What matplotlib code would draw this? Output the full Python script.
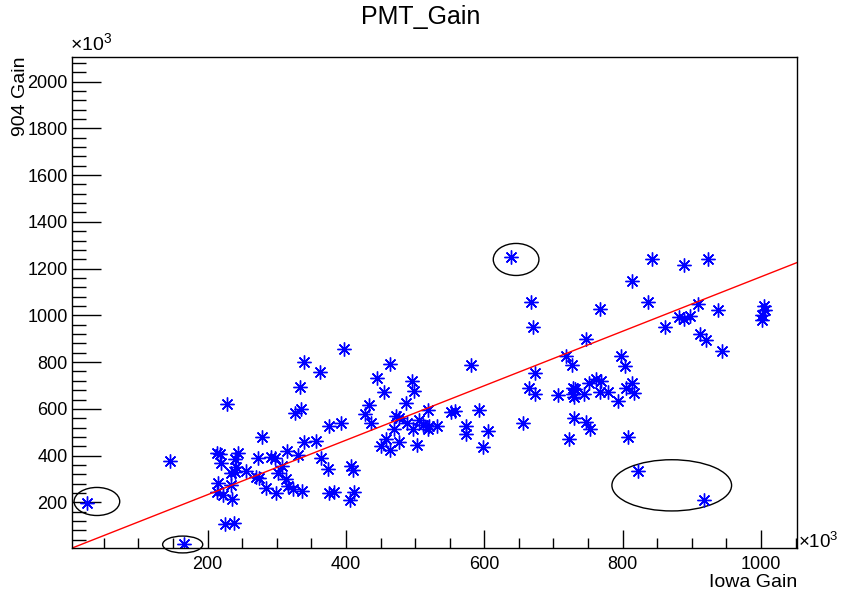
import numpy as np
import matplotlib
matplotlib.use("Agg")
import matplotlib.pyplot as plt
from matplotlib.patches import Ellipse
from matplotlib.ticker import MultipleLocator

plt.rcParams['font.family'] = ['Liberation Sans', 'DejaVu Sans']
plt.rcParams['mathtext.fontset'] = 'custom'
plt.rcParams['mathtext.rm'] = 'Liberation Sans'

# Iowa gain vs 904 gain, both in units of 1e3
iowa_gain = [
    25, 166, 639, 822, 918,
    228, 145, 278, 213, 218, 244, 220, 239, 273, 292, 297, 315, 234, 239, 256,
    241, 270, 275, 215, 234, 213, 222, 236, 285, 299, 302, 314, 225, 238,
    397, 340, 464, 363, 445, 496, 334, 455, 498, 487, 326, 335, 433, 427, 436,
    375, 393, 472, 476, 470, 489, 497, 458, 451, 463, 476, 503, 340, 357, 330,
    364, 374, 407, 410, 308, 316, 323, 337, 375, 383, 411, 406,
    581, 519, 552, 557, 593, 506, 511, 520, 532, 518, 573, 574, 605, 598, 656,
    674, 665, 674,
    843, 814, 836, 767, 667, 671, 747, 861, 718, 727, 798, 804, 707, 728, 731,
    728, 730, 744, 751, 762, 769, 767, 779, 794, 805, 814, 817, 730, 747, 753,
    723, 808,
    923, 889, 909, 938, 881, 888, 897, 912, 921, 943, 1004, 1006, 1002, 1002,
]
gain_904 = [
    199, 20, 1251, 334, 210,
    619, 379, 479, 413, 405, 410, 367, 385, 388, 396, 390, 418, 324, 330, 334,
    353, 310, 304, 285, 273, 244, 230, 216, 263, 239, 324, 299, 106, 110,
    854, 802, 794, 759, 731, 721, 692, 671, 678, 625, 582, 599, 616, 576, 539,
    525, 538, 568, 559, 516, 539, 516, 473, 442, 424, 459, 445, 459, 463, 402,
    392, 345, 356, 339, 356, 271, 256, 249, 239, 244, 244, 210,
    788, 595, 588, 592, 594, 553, 530, 525, 525, 513, 525, 491, 506, 439, 539,
    754, 688, 664,
    1243, 1146, 1057, 1028, 1057, 950, 900, 950, 825, 788, 828, 782, 659, 689, 685,
    663, 649, 663, 711, 728, 721, 673, 673, 635, 688, 711, 668, 563, 542, 513,
    473, 479,
    1243, 1217, 1050, 1021, 995, 985, 997, 921, 895, 848, 1042, 1021, 1000, 982,
]

# linear fit drawn across the frame
fit_slope = 1.165
fit_offset = 0.0

# circled outliers: centre x, centre y, width, height
circle_x = [40, 164, 646, 871]
circle_y = [204, 20, 1239, 273]
circle_w = [66, 58, 66, 173]
circle_h = [120, 72, 137, 219]

x_lim = (4, 1052)
y_lim = (5, 2105)

fig = plt.figure(figsize=(8.42, 6.06), dpi=100)
ax = fig.add_axes([0.0855, 0.0957, 0.861, 0.8103])

ax.plot(iowa_gain, gain_904, linestyle='none', marker=(8, 2, 0), markersize=10,
        markeredgewidth=1.0, color='#0000ff', markeredgecolor='#0000ff')
ax.plot(iowa_gain, gain_904, linestyle='none', marker='o', markersize=2.5,
        color='#0000ff')

xs = np.array(x_lim)
ax.plot(xs, fit_slope * xs + fit_offset, color='red', linewidth=1)

for cx, cy, w, h in zip(circle_x, circle_y, circle_w, circle_h):
    ax.add_patch(Ellipse((cx, cy), w, h, fill=False, edgecolor='black',
                         linewidth=1, clip_on=False))

ax.set_xlim(*x_lim)
ax.set_ylim(*y_lim)
ax.xaxis.set_major_locator(MultipleLocator(200))
ax.xaxis.set_minor_locator(MultipleLocator(50))
ax.yaxis.set_major_locator(MultipleLocator(200))
ax.yaxis.set_minor_locator(MultipleLocator(40))
ax.tick_params(which='both', direction='in', top=False, right=False,
               labelsize=13, width=1)
ax.tick_params(axis='x', which='major', length=13, pad=6)
ax.tick_params(axis='x', which='minor', length=7)
ax.tick_params(axis='y', which='major', length=21, pad=3)
ax.tick_params(axis='y', which='minor', length=10)
for s in ax.spines.values():
    s.set_linewidth(1)

fig.text(0.5, 0.972, 'PMT_Gain', ha='center', va='center', fontsize=18)
fig.text(0.9466, 0.038, 'Iowa Gain', ha='right', va='center', fontsize=14)
fig.text(0.024, 0.906, '904 Gain', ha='center', va='top', rotation=90,
         fontsize=14)
fig.text(0.083, 0.928, r'×10$^{3}$', ha='left', va='center', fontsize=14)
fig.text(0.948, 0.107, r'×10$^{3}$', ha='left', va='center', fontsize=13.5)

fig.savefig('out.png', dpi=100)
